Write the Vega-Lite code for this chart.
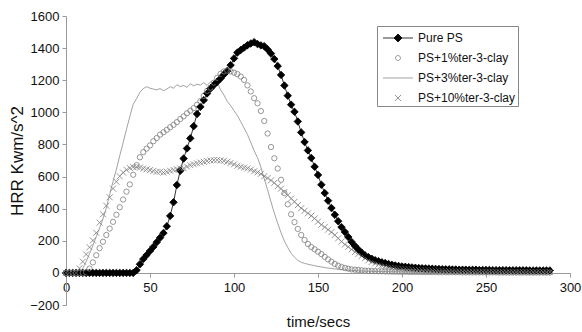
{
"$schema": "https://vega.github.io/schema/vega-lite/v6.json",
"width": 504, "height": 289,
"autosize": "none",
"padding": {"left": 66, "top": 16, "right": 12, "bottom": 27},
"background": "white",
"config": {"view": {"stroke": null}, "font": "Liberation Sans", "axis": {"grid": false, "labelFont": "Liberation Sans", "titleFont": "Liberation Sans"}},
"data": {"values": [
{"t":0,"Pure PS":0,"PS+1%ter-3-clay":0,"PS+3%ter-3-clay":0,"PS+10%ter-3-clay":0},
{"t":2,"Pure PS":0,"PS+1%ter-3-clay":0,"PS+3%ter-3-clay":0,"PS+10%ter-3-clay":0},
{"t":4,"Pure PS":0,"PS+1%ter-3-clay":0,"PS+3%ter-3-clay":0,"PS+10%ter-3-clay":0},
{"t":6,"Pure PS":0,"PS+1%ter-3-clay":0,"PS+3%ter-3-clay":0,"PS+10%ter-3-clay":0},
{"t":8,"Pure PS":0,"PS+1%ter-3-clay":0,"PS+3%ter-3-clay":2,"PS+10%ter-3-clay":29},
{"t":10,"Pure PS":0,"PS+1%ter-3-clay":0,"PS+3%ter-3-clay":28,"PS+10%ter-3-clay":70},
{"t":12,"Pure PS":0,"PS+1%ter-3-clay":4,"PS+3%ter-3-clay":70,"PS+10%ter-3-clay":115},
{"t":14,"Pure PS":0,"PS+1%ter-3-clay":27,"PS+3%ter-3-clay":120,"PS+10%ter-3-clay":160},
{"t":16,"Pure PS":0,"PS+1%ter-3-clay":65,"PS+3%ter-3-clay":170,"PS+10%ter-3-clay":202},
{"t":18,"Pure PS":0,"PS+1%ter-3-clay":110,"PS+3%ter-3-clay":225,"PS+10%ter-3-clay":250},
{"t":20,"Pure PS":0,"PS+1%ter-3-clay":154,"PS+3%ter-3-clay":280,"PS+10%ter-3-clay":313},
{"t":22,"Pure PS":0,"PS+1%ter-3-clay":194,"PS+3%ter-3-clay":336,"PS+10%ter-3-clay":365},
{"t":24,"Pure PS":0,"PS+1%ter-3-clay":236,"PS+3%ter-3-clay":405,"PS+10%ter-3-clay":418},
{"t":26,"Pure PS":0,"PS+1%ter-3-clay":276,"PS+3%ter-3-clay":488,"PS+10%ter-3-clay":471},
{"t":28,"Pure PS":0,"PS+1%ter-3-clay":318,"PS+3%ter-3-clay":570,"PS+10%ter-3-clay":525},
{"t":30,"Pure PS":0,"PS+1%ter-3-clay":362,"PS+3%ter-3-clay":646,"PS+10%ter-3-clay":568},
{"t":32,"Pure PS":0,"PS+1%ter-3-clay":409,"PS+3%ter-3-clay":730,"PS+10%ter-3-clay":602},
{"t":34,"Pure PS":0,"PS+1%ter-3-clay":457,"PS+3%ter-3-clay":810,"PS+10%ter-3-clay":625},
{"t":36,"Pure PS":0,"PS+1%ter-3-clay":506,"PS+3%ter-3-clay":894,"PS+10%ter-3-clay":642},
{"t":38,"Pure PS":0,"PS+1%ter-3-clay":551,"PS+3%ter-3-clay":974,"PS+10%ter-3-clay":653},
{"t":40,"Pure PS":0,"PS+1%ter-3-clay":611,"PS+3%ter-3-clay":1050,"PS+10%ter-3-clay":659},
{"t":42,"Pure PS":17,"PS+1%ter-3-clay":671,"PS+3%ter-3-clay":1085,"PS+10%ter-3-clay":660},
{"t":44,"Pure PS":54,"PS+1%ter-3-clay":720,"PS+3%ter-3-clay":1125,"PS+10%ter-3-clay":656},
{"t":46,"Pure PS":86,"PS+1%ter-3-clay":752,"PS+3%ter-3-clay":1148,"PS+10%ter-3-clay":650},
{"t":48,"Pure PS":111,"PS+1%ter-3-clay":774,"PS+3%ter-3-clay":1160,"PS+10%ter-3-clay":645},
{"t":50,"Pure PS":137,"PS+1%ter-3-clay":794,"PS+3%ter-3-clay":1150,"PS+10%ter-3-clay":640},
{"t":52,"Pure PS":162,"PS+1%ter-3-clay":820,"PS+3%ter-3-clay":1145,"PS+10%ter-3-clay":635},
{"t":54,"Pure PS":191,"PS+1%ter-3-clay":840,"PS+3%ter-3-clay":1140,"PS+10%ter-3-clay":630},
{"t":56,"Pure PS":219,"PS+1%ter-3-clay":861,"PS+3%ter-3-clay":1148,"PS+10%ter-3-clay":630},
{"t":58,"Pure PS":248,"PS+1%ter-3-clay":876,"PS+3%ter-3-clay":1135,"PS+10%ter-3-clay":625},
{"t":60,"Pure PS":290,"PS+1%ter-3-clay":891,"PS+3%ter-3-clay":1145,"PS+10%ter-3-clay":630},
{"t":62,"Pure PS":355,"PS+1%ter-3-clay":907,"PS+3%ter-3-clay":1160,"PS+10%ter-3-clay":636},
{"t":64,"Pure PS":440,"PS+1%ter-3-clay":922,"PS+3%ter-3-clay":1150,"PS+10%ter-3-clay":641},
{"t":66,"Pure PS":547,"PS+1%ter-3-clay":939,"PS+3%ter-3-clay":1172,"PS+10%ter-3-clay":646},
{"t":68,"Pure PS":636,"PS+1%ter-3-clay":958,"PS+3%ter-3-clay":1160,"PS+10%ter-3-clay":650},
{"t":70,"Pure PS":712,"PS+1%ter-3-clay":975,"PS+3%ter-3-clay":1168,"PS+10%ter-3-clay":652},
{"t":72,"Pure PS":775,"PS+1%ter-3-clay":994,"PS+3%ter-3-clay":1155,"PS+10%ter-3-clay":662},
{"t":74,"Pure PS":838,"PS+1%ter-3-clay":1010,"PS+3%ter-3-clay":1178,"PS+10%ter-3-clay":671},
{"t":76,"Pure PS":914,"PS+1%ter-3-clay":1026,"PS+3%ter-3-clay":1165,"PS+10%ter-3-clay":676},
{"t":78,"Pure PS":990,"PS+1%ter-3-clay":1047,"PS+3%ter-3-clay":1175,"PS+10%ter-3-clay":682},
{"t":80,"Pure PS":1034,"PS+1%ter-3-clay":1070,"PS+3%ter-3-clay":1170,"PS+10%ter-3-clay":687},
{"t":82,"Pure PS":1076,"PS+1%ter-3-clay":1102,"PS+3%ter-3-clay":1185,"PS+10%ter-3-clay":692},
{"t":84,"Pure PS":1118,"PS+1%ter-3-clay":1134,"PS+3%ter-3-clay":1168,"PS+10%ter-3-clay":697},
{"t":86,"Pure PS":1148,"PS+1%ter-3-clay":1154,"PS+3%ter-3-clay":1190,"PS+10%ter-3-clay":700},
{"t":88,"Pure PS":1170,"PS+1%ter-3-clay":1185,"PS+3%ter-3-clay":1175,"PS+10%ter-3-clay":702},
{"t":90,"Pure PS":1190,"PS+1%ter-3-clay":1215,"PS+3%ter-3-clay":1190,"PS+10%ter-3-clay":703},
{"t":92,"Pure PS":1211,"PS+1%ter-3-clay":1240,"PS+3%ter-3-clay":1140,"PS+10%ter-3-clay":700},
{"t":94,"Pure PS":1236,"PS+1%ter-3-clay":1255,"PS+3%ter-3-clay":1108,"PS+10%ter-3-clay":698},
{"t":96,"Pure PS":1258,"PS+1%ter-3-clay":1260,"PS+3%ter-3-clay":1068,"PS+10%ter-3-clay":692},
{"t":98,"Pure PS":1294,"PS+1%ter-3-clay":1255,"PS+3%ter-3-clay":1042,"PS+10%ter-3-clay":685},
{"t":100,"Pure PS":1336,"PS+1%ter-3-clay":1247,"PS+3%ter-3-clay":1010,"PS+10%ter-3-clay":676},
{"t":102,"Pure PS":1372,"PS+1%ter-3-clay":1238,"PS+3%ter-3-clay":980,"PS+10%ter-3-clay":667},
{"t":104,"Pure PS":1388,"PS+1%ter-3-clay":1223,"PS+3%ter-3-clay":942,"PS+10%ter-3-clay":661},
{"t":106,"Pure PS":1403,"PS+1%ter-3-clay":1202,"PS+3%ter-3-clay":902,"PS+10%ter-3-clay":656},
{"t":108,"Pure PS":1418,"PS+1%ter-3-clay":1168,"PS+3%ter-3-clay":862,"PS+10%ter-3-clay":651},
{"t":110,"Pure PS":1429,"PS+1%ter-3-clay":1130,"PS+3%ter-3-clay":812,"PS+10%ter-3-clay":643},
{"t":112,"Pure PS":1437,"PS+1%ter-3-clay":1088,"PS+3%ter-3-clay":760,"PS+10%ter-3-clay":633},
{"t":114,"Pure PS":1425,"PS+1%ter-3-clay":1056,"PS+3%ter-3-clay":718,"PS+10%ter-3-clay":626},
{"t":116,"Pure PS":1417,"PS+1%ter-3-clay":1008,"PS+3%ter-3-clay":659,"PS+10%ter-3-clay":617},
{"t":118,"Pure PS":1412,"PS+1%ter-3-clay":946,"PS+3%ter-3-clay":587,"PS+10%ter-3-clay":602},
{"t":120,"Pure PS":1392,"PS+1%ter-3-clay":868,"PS+3%ter-3-clay":517,"PS+10%ter-3-clay":591},
{"t":122,"Pure PS":1366,"PS+1%ter-3-clay":784,"PS+3%ter-3-clay":443,"PS+10%ter-3-clay":576},
{"t":124,"Pure PS":1332,"PS+1%ter-3-clay":714,"PS+3%ter-3-clay":373,"PS+10%ter-3-clay":561},
{"t":126,"Pure PS":1288,"PS+1%ter-3-clay":650,"PS+3%ter-3-clay":310,"PS+10%ter-3-clay":540},
{"t":128,"Pure PS":1233,"PS+1%ter-3-clay":580,"PS+3%ter-3-clay":250,"PS+10%ter-3-clay":525},
{"t":130,"Pure PS":1167,"PS+1%ter-3-clay":497,"PS+3%ter-3-clay":198,"PS+10%ter-3-clay":504},
{"t":132,"Pure PS":1104,"PS+1%ter-3-clay":427,"PS+3%ter-3-clay":158,"PS+10%ter-3-clay":484},
{"t":134,"Pure PS":1048,"PS+1%ter-3-clay":365,"PS+3%ter-3-clay":122,"PS+10%ter-3-clay":463},
{"t":136,"Pure PS":1003,"PS+1%ter-3-clay":316,"PS+3%ter-3-clay":98,"PS+10%ter-3-clay":443},
{"t":138,"Pure PS":943,"PS+1%ter-3-clay":274,"PS+3%ter-3-clay":78,"PS+10%ter-3-clay":422},
{"t":140,"Pure PS":875,"PS+1%ter-3-clay":236,"PS+3%ter-3-clay":66,"PS+10%ter-3-clay":403},
{"t":142,"Pure PS":815,"PS+1%ter-3-clay":205,"PS+3%ter-3-clay":59,"PS+10%ter-3-clay":387},
{"t":144,"Pure PS":763,"PS+1%ter-3-clay":180,"PS+3%ter-3-clay":54,"PS+10%ter-3-clay":371},
{"t":146,"Pure PS":716,"PS+1%ter-3-clay":161,"PS+3%ter-3-clay":49,"PS+10%ter-3-clay":356},
{"t":148,"Pure PS":661,"PS+1%ter-3-clay":147,"PS+3%ter-3-clay":45,"PS+10%ter-3-clay":339},
{"t":150,"Pure PS":610,"PS+1%ter-3-clay":132,"PS+3%ter-3-clay":40,"PS+10%ter-3-clay":319},
{"t":152,"Pure PS":549,"PS+1%ter-3-clay":117,"PS+3%ter-3-clay":37,"PS+10%ter-3-clay":300},
{"t":154,"Pure PS":497,"PS+1%ter-3-clay":100,"PS+3%ter-3-clay":33,"PS+10%ter-3-clay":285},
{"t":156,"Pure PS":450,"PS+1%ter-3-clay":84,"PS+3%ter-3-clay":30,"PS+10%ter-3-clay":269},
{"t":158,"Pure PS":404,"PS+1%ter-3-clay":70,"PS+3%ter-3-clay":27,"PS+10%ter-3-clay":254},
{"t":160,"Pure PS":362,"PS+1%ter-3-clay":56,"PS+3%ter-3-clay":25,"PS+10%ter-3-clay":236},
{"t":162,"Pure PS":322,"PS+1%ter-3-clay":45,"PS+3%ter-3-clay":22,"PS+10%ter-3-clay":215},
{"t":164,"Pure PS":285,"PS+1%ter-3-clay":37,"PS+3%ter-3-clay":20,"PS+10%ter-3-clay":195},
{"t":166,"Pure PS":255,"PS+1%ter-3-clay":31,"PS+3%ter-3-clay":18,"PS+10%ter-3-clay":177},
{"t":168,"Pure PS":224,"PS+1%ter-3-clay":26,"PS+3%ter-3-clay":17,"PS+10%ter-3-clay":162},
{"t":170,"Pure PS":193,"PS+1%ter-3-clay":22,"PS+3%ter-3-clay":15,"PS+10%ter-3-clay":146},
{"t":172,"Pure PS":168,"PS+1%ter-3-clay":20,"PS+3%ter-3-clay":14,"PS+10%ter-3-clay":130},
{"t":174,"Pure PS":145,"PS+1%ter-3-clay":18,"PS+3%ter-3-clay":13,"PS+10%ter-3-clay":118},
{"t":176,"Pure PS":126,"PS+1%ter-3-clay":16,"PS+3%ter-3-clay":12,"PS+10%ter-3-clay":105},
{"t":178,"Pure PS":109,"PS+1%ter-3-clay":14,"PS+3%ter-3-clay":11,"PS+10%ter-3-clay":92},
{"t":180,"Pure PS":98,"PS+1%ter-3-clay":13,"PS+3%ter-3-clay":10,"PS+10%ter-3-clay":78},
{"t":182,"Pure PS":88,"PS+1%ter-3-clay":12,"PS+3%ter-3-clay":10,"PS+10%ter-3-clay":68},
{"t":184,"Pure PS":79,"PS+1%ter-3-clay":11,"PS+3%ter-3-clay":9,"PS+10%ter-3-clay":59},
{"t":186,"Pure PS":73,"PS+1%ter-3-clay":10,"PS+3%ter-3-clay":9,"PS+10%ter-3-clay":52},
{"t":188,"Pure PS":66,"PS+1%ter-3-clay":10,"PS+3%ter-3-clay":8,"PS+10%ter-3-clay":46},
{"t":190,"Pure PS":61,"PS+1%ter-3-clay":9,"PS+3%ter-3-clay":8,"PS+10%ter-3-clay":40},
{"t":192,"Pure PS":55,"PS+1%ter-3-clay":9,"PS+3%ter-3-clay":8,"PS+10%ter-3-clay":37},
{"t":194,"Pure PS":50,"PS+1%ter-3-clay":8,"PS+3%ter-3-clay":7,"PS+10%ter-3-clay":33},
{"t":196,"Pure PS":46,"PS+1%ter-3-clay":8,"PS+3%ter-3-clay":7,"PS+10%ter-3-clay":31},
{"t":198,"Pure PS":43,"PS+1%ter-3-clay":7,"PS+3%ter-3-clay":7,"PS+10%ter-3-clay":29},
{"t":200,"Pure PS":40,"PS+1%ter-3-clay":7,"PS+3%ter-3-clay":6,"PS+10%ter-3-clay":27},
{"t":202,"Pure PS":38,"PS+1%ter-3-clay":7,"PS+3%ter-3-clay":6,"PS+10%ter-3-clay":25},
{"t":204,"Pure PS":36,"PS+1%ter-3-clay":6,"PS+3%ter-3-clay":6,"PS+10%ter-3-clay":23},
{"t":206,"Pure PS":34,"PS+1%ter-3-clay":6,"PS+3%ter-3-clay":6,"PS+10%ter-3-clay":22},
{"t":208,"Pure PS":32,"PS+1%ter-3-clay":6,"PS+3%ter-3-clay":5,"PS+10%ter-3-clay":20},
{"t":210,"Pure PS":30,"PS+1%ter-3-clay":6,"PS+3%ter-3-clay":5,"PS+10%ter-3-clay":19},
{"t":212,"Pure PS":29,"PS+1%ter-3-clay":5,"PS+3%ter-3-clay":5,"PS+10%ter-3-clay":18},
{"t":214,"Pure PS":28,"PS+1%ter-3-clay":5,"PS+3%ter-3-clay":5,"PS+10%ter-3-clay":17},
{"t":216,"Pure PS":27,"PS+1%ter-3-clay":5,"PS+3%ter-3-clay":5,"PS+10%ter-3-clay":16},
{"t":218,"Pure PS":26,"PS+1%ter-3-clay":5,"PS+3%ter-3-clay":5,"PS+10%ter-3-clay":15},
{"t":220,"Pure PS":25,"PS+1%ter-3-clay":5,"PS+3%ter-3-clay":4,"PS+10%ter-3-clay":14},
{"t":222,"Pure PS":24,"PS+1%ter-3-clay":4,"PS+3%ter-3-clay":4,"PS+10%ter-3-clay":14},
{"t":224,"Pure PS":23,"PS+1%ter-3-clay":4,"PS+3%ter-3-clay":4,"PS+10%ter-3-clay":13},
{"t":226,"Pure PS":22,"PS+1%ter-3-clay":4,"PS+3%ter-3-clay":4,"PS+10%ter-3-clay":12},
{"t":228,"Pure PS":22,"PS+1%ter-3-clay":4,"PS+3%ter-3-clay":4,"PS+10%ter-3-clay":12},
{"t":230,"Pure PS":21,"PS+1%ter-3-clay":4,"PS+3%ter-3-clay":4,"PS+10%ter-3-clay":11},
{"t":232,"Pure PS":21,"PS+1%ter-3-clay":4,"PS+3%ter-3-clay":4,"PS+10%ter-3-clay":11},
{"t":234,"Pure PS":20,"PS+1%ter-3-clay":4,"PS+3%ter-3-clay":3,"PS+10%ter-3-clay":10},
{"t":236,"Pure PS":20,"PS+1%ter-3-clay":3,"PS+3%ter-3-clay":3,"PS+10%ter-3-clay":10},
{"t":238,"Pure PS":20,"PS+1%ter-3-clay":3,"PS+3%ter-3-clay":3,"PS+10%ter-3-clay":10},
{"t":240,"Pure PS":19,"PS+1%ter-3-clay":3,"PS+3%ter-3-clay":3,"PS+10%ter-3-clay":9},
{"t":242,"Pure PS":19,"PS+1%ter-3-clay":3,"PS+3%ter-3-clay":3,"PS+10%ter-3-clay":9},
{"t":244,"Pure PS":19,"PS+1%ter-3-clay":3,"PS+3%ter-3-clay":3,"PS+10%ter-3-clay":9},
{"t":246,"Pure PS":18,"PS+1%ter-3-clay":3,"PS+3%ter-3-clay":3,"PS+10%ter-3-clay":8},
{"t":248,"Pure PS":18,"PS+1%ter-3-clay":3,"PS+3%ter-3-clay":3,"PS+10%ter-3-clay":8},
{"t":250,"Pure PS":18,"PS+1%ter-3-clay":3,"PS+3%ter-3-clay":3,"PS+10%ter-3-clay":8},
{"t":252,"Pure PS":18,"PS+1%ter-3-clay":3,"PS+3%ter-3-clay":3,"PS+10%ter-3-clay":8},
{"t":254,"Pure PS":17,"PS+1%ter-3-clay":3,"PS+3%ter-3-clay":3,"PS+10%ter-3-clay":7},
{"t":256,"Pure PS":17,"PS+1%ter-3-clay":3,"PS+3%ter-3-clay":2,"PS+10%ter-3-clay":7},
{"t":258,"Pure PS":17,"PS+1%ter-3-clay":2,"PS+3%ter-3-clay":2,"PS+10%ter-3-clay":7},
{"t":260,"Pure PS":17,"PS+1%ter-3-clay":2,"PS+3%ter-3-clay":2,"PS+10%ter-3-clay":7},
{"t":262,"Pure PS":17,"PS+1%ter-3-clay":2,"PS+3%ter-3-clay":2,"PS+10%ter-3-clay":7},
{"t":264,"Pure PS":16,"PS+1%ter-3-clay":2,"PS+3%ter-3-clay":2,"PS+10%ter-3-clay":6},
{"t":266,"Pure PS":16,"PS+1%ter-3-clay":2,"PS+3%ter-3-clay":2,"PS+10%ter-3-clay":6},
{"t":268,"Pure PS":16,"PS+1%ter-3-clay":2,"PS+3%ter-3-clay":2,"PS+10%ter-3-clay":6},
{"t":270,"Pure PS":16,"PS+1%ter-3-clay":2,"PS+3%ter-3-clay":2,"PS+10%ter-3-clay":6},
{"t":272,"Pure PS":16,"PS+1%ter-3-clay":2,"PS+3%ter-3-clay":2,"PS+10%ter-3-clay":6},
{"t":274,"Pure PS":16,"PS+1%ter-3-clay":2,"PS+3%ter-3-clay":2,"PS+10%ter-3-clay":6},
{"t":276,"Pure PS":15,"PS+1%ter-3-clay":2,"PS+3%ter-3-clay":2,"PS+10%ter-3-clay":5},
{"t":278,"Pure PS":15,"PS+1%ter-3-clay":2,"PS+3%ter-3-clay":2,"PS+10%ter-3-clay":5},
{"t":280,"Pure PS":15,"PS+1%ter-3-clay":2,"PS+3%ter-3-clay":2,"PS+10%ter-3-clay":5},
{"t":282,"Pure PS":15,"PS+1%ter-3-clay":2,"PS+3%ter-3-clay":2,"PS+10%ter-3-clay":5},
{"t":284,"Pure PS":15,"PS+1%ter-3-clay":2,"PS+3%ter-3-clay":2,"PS+10%ter-3-clay":5},
{"t":286,"Pure PS":15,"PS+1%ter-3-clay":2,"PS+3%ter-3-clay":2,"PS+10%ter-3-clay":5},
{"t":288,"Pure PS":15,"PS+1%ter-3-clay":2,"PS+3%ter-3-clay":2,"PS+10%ter-3-clay":5}
]},
"transform": [{"fold": ["Pure PS","PS+1%ter-3-clay","PS+3%ter-3-clay","PS+10%ter-3-clay"], "as": ["series","hrr"]}],
"encoding": {
  "x": {"field": "t", "type": "quantitative", "scale": {"domain": [0,300], "nice": false},
        "axis": {"values": [0,50,100,150,200,250,300], "offset": -32, "title": "time/secs", "titleFontSize": 15, "titleFontWeight": "normal", "titleColor": "#111", "titlePadding": 20, "labelFontSize": 13, "labelColor": "#111", "labelPadding": 4, "tickSize": 4, "domainColor": "#999", "tickColor": "#999", "labelFlush": false}},
  "y": {"field": "hrr", "type": "quantitative", "scale": {"domain": [-200,1600], "nice": false},
        "axis": {"values": [-200,0,200,400,600,800,1000,1200,1400,1600], "format": "d", "title": "HRR Kwm/s^2", "titleFontSize": 17, "titleFontWeight": "normal", "titleColor": "#111", "titlePadding": 3, "labelFontSize": 13, "labelColor": "#111", "labelPadding": 3, "tickSize": 4, "domainColor": "#999", "tickColor": "#999", "labelFlush": false}}
},
"layer": [
  {"transform": [{"filter": {"field": "series", "oneOf": ["PS+3%ter-3-clay", "Pure PS"]}}],
   "mark": {"type": "line", "strokeWidth": 0.8},
   "encoding": {"detail": {"field": "series"},
     "color": {"condition": {"test": "datum.series === 'Pure PS'", "value": "#000000"}, "value": "#8a8a8a"}}},
  {"transform": [{"filter": {"field": "series", "oneOf": ["PS+10%ter-3-clay", "PS+1%ter-3-clay", "Pure PS"]}}],
   "mark": {"type": "point", "filled": false, "strokeWidth": 0.8, "opacity": 1},
   "encoding": {
     "color": {"condition": {"test": "datum.series === 'Pure PS'", "value": "#000000"}, "value": "#7c7c7c"},
     "shape": {"condition": [{"test": "datum.series === 'Pure PS'", "value": "diamond"}, {"test": "datum.series === 'PS+1%ter-3-clay'", "value": "circle"}], "value": "M-1,-1L1,1M-1,1L1,-1"},
     "fill": {"condition": {"test": "datum.series === 'Pure PS'", "value": "#000000"}, "value": "transparent"},
     "size": {"condition": [{"test": "datum.series === 'Pure PS'", "value": 56}, {"test": "datum.series === 'PS+1%ter-3-clay'", "value": 28}], "value": 36}
   }},
  {"transform": [{"filter": "datum.t < 0"}],
   "mark": {"type": "point", "filled": false, "strokeWidth": 0.8, "opacity": 1},
   "encoding": {
     "color": {"field": "series", "type": "nominal",
       "scale": {"domain": ["Pure PS","PS+1%ter-3-clay","PS+3%ter-3-clay","PS+10%ter-3-clay"], "range": ["#000000","#808080","#8a8a8a","#7a7a7a"]},
       "legend": {"title": null, "orient": "none", "legendX": 311, "legendY": 10, "direction": "vertical",
         "symbolSize": 361, "symbolOffset": 9, "labelOffset": 10, "padding": 2, "rowPadding": 4,
         "strokeColor": "#888", "fillColor": "#ffffff", "labelFontSize": 12, "labelFont": "Liberation Sans", "labelColor": "#111",
         "symbolStrokeWidth": 0.8, "symbolOpacity": 1, "symbolFillColor": "transparent"}},
     "fill": {"field": "series", "type": "nominal",
       "scale": {"domain": ["Pure PS","PS+1%ter-3-clay","PS+3%ter-3-clay","PS+10%ter-3-clay"], "range": ["#000000","transparent","transparent","transparent"]}},
     "shape": {"field": "series", "type": "nominal",
       "scale": {"domain": ["Pure PS","PS+1%ter-3-clay","PS+3%ter-3-clay","PS+10%ter-3-clay"], "range": ["M-1.58,0H1.58M0,-0.42L0.42,0L0,0.42L-0.42,0Z","M0.26,0A0.26,0.26,0,1,1,-0.26,0A0.26,0.26,0,1,1,0.26,0Z","M-1.58,0H1.58","M-0.32,-0.32L0.32,0.32M-0.32,0.32L0.32,-0.32"]}}
   }}
]
}
